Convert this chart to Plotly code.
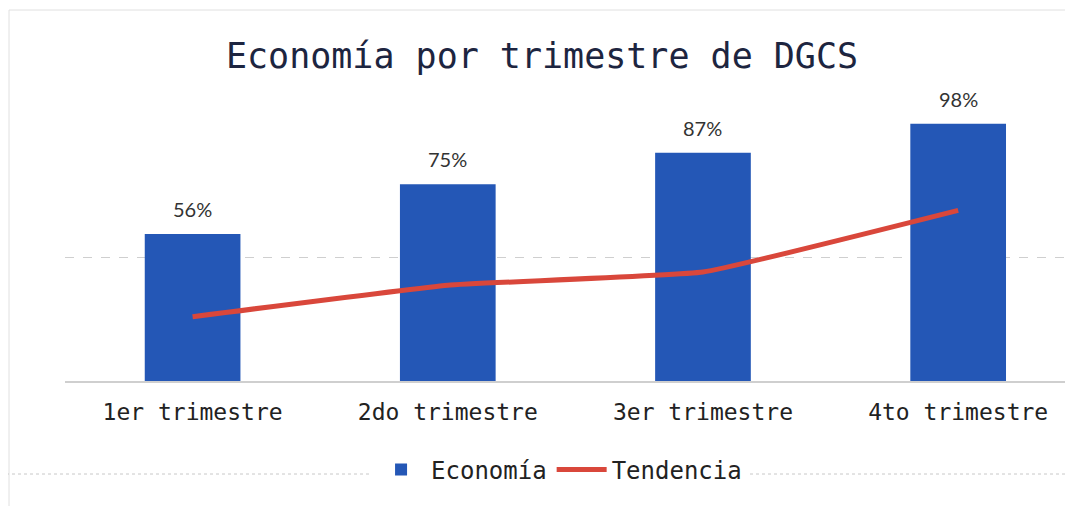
import plotly.graph_objects as go

categories = ["1er trimestre", "2do trimestre", "3er trimestre", "4to trimestre"]
economia = [0.56, 0.75, 0.87, 0.98]
economia_labels = ["56%", "75%", "87%", "98%"]
tendencia = [0.245, 0.365, 0.415, 0.65]
grid_values = [0.47]

# the page adds an 8px body margin, so the figure is drawn 8px smaller
OFF = 8
W, H = 1073 - OFF, 506 - OFF
ML, MR, MT, MB = 65 - OFF, 0, 66 - OFF, 125
PW, PH = W - ML - MR, H - MT - MB

BLUE = "#2457b6"
RED = "#d9473b"
MONO = "DejaVu Sans Mono"

fig = go.Figure()
fig.add_trace(go.Bar(
    x=categories, y=economia, name="Economía",
    marker=dict(color=BLUE, line=dict(width=0)),
    width=0.375,
))
fig.add_trace(go.Scatter(
    x=categories, y=tendencia, name="Tendencia", mode="lines",
    line=dict(color=RED, width=5, shape="spline", smoothing=0.3),
))

for c, v, t in zip(categories, economia, economia_labels):
    fig.add_annotation(x=c, y=v, text=t, showarrow=False, yanchor="bottom",
                       yshift=11, font=dict(family="Lato, Open Sans", size=20, color="#333333"))

def px_to_paper_x(px):
    return (px - OFF - ML) / PW

def px_to_paper_y(py):
    return (H - MB - (py - OFF)) / PH

# faint outer frame of the scanned chart
fig.add_shape(type="rect", xref="paper", yref="paper",
              x0=px_to_paper_x(9), x1=px_to_paper_x(1090),
              y0=px_to_paper_y(530), y1=px_to_paper_y(10),
              line=dict(color="#e0e0e0", width=1), layer="below")
fig.add_shape(type="line", xref="paper", yref="paper",
              x0=px_to_paper_x(0), x1=px_to_paper_x(1073),
              y0=px_to_paper_y(474), y1=px_to_paper_y(474),
              line=dict(color="#c8c8c8", width=1, dash="dot"), layer="below")

fig.update_layout(
    width=W, height=H,
    margin=dict(l=ML, r=MR, t=MT, b=MB),
    paper_bgcolor="white", plot_bgcolor="white",
    title=dict(text="Economía por trimestre de DGCS", x=(542 - OFF) / W, xanchor="center",
               y=1 - (56 - OFF) / H, yanchor="middle", yref="container",
               font=dict(family=MONO, size=35, color="#1d2540")),
    xaxis=dict(range=[-0.5, 3.45], showline=True, linecolor="#cfcfcf", linewidth=1.5,
               ticks="outside", ticklen=10, tickcolor="rgba(0,0,0,0)",
               tickfont=dict(family=MONO, size=23, color="#222222"),
               showgrid=False, zeroline=False, fixedrange=True, automargin=False),
    yaxis=dict(range=[0, 1.2], tickvals=grid_values, showticklabels=False,
               showgrid=True, gridcolor="#cfcfcf", griddash="dash", gridwidth=1,
               zeroline=False, showline=False, fixedrange=True, automargin=False),
    legend=dict(orientation="h", x=(530 - OFF) / W, xanchor="center", y=1 - (470 - OFF) / H,
                yanchor="middle", yref="container", bgcolor="white",
                font=dict(family=MONO, size=24, color="#222222"),
                itemwidth=50, traceorder="normal"),
    showlegend=True,
)

fig.write_html("out.html")
